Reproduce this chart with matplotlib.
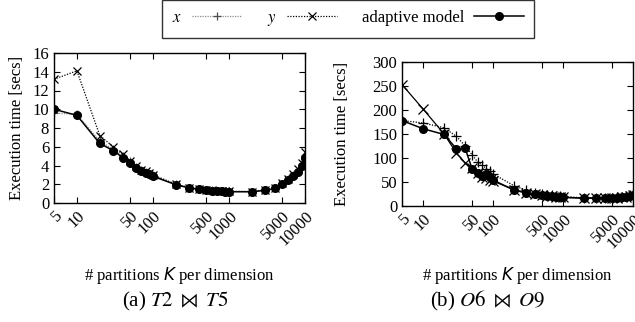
import matplotlib
matplotlib.use("Agg")
import matplotlib.pyplot as plt
from matplotlib.ticker import FixedLocator, FixedFormatter, NullLocator
from matplotlib.transforms import blended_transform_factory

plt.rcParams['font.family'] = ['Liberation Serif', 'DejaVu Serif']
plt.rcParams['mathtext.fontset'] = 'stix'

ks = [5, 10, 20, 30, 40, 50, 60, 70, 80, 90, 100, 200, 300, 400, 500, 600, 700, 800, 900,
      1000, 2000, 3000, 4000, 5000, 6000, 7000, 8000, 9000, 10000]

left_adaptive = [10.0, 9.35, 6.35, 5.6, 4.85, 4.3, 3.7, 3.4, 3.25, 3.05, 2.85, 1.95, 1.6, 1.45,
                 1.38, 1.32, 1.28, 1.25, 1.22, 1.2, 1.2, 1.35, 1.55, 2.0, 2.45, 2.9, 3.35, 4.0, 4.75]
left_x = [9.6, 9.45, 6.6, 5.75, 5.0, 4.45, 3.85, 3.5, 3.35, 3.15, 2.95, 2.0, 1.65, 1.5,
          1.42, 1.36, 1.32, 1.28, 1.25, 1.24, 1.22, 1.38, 1.6, 2.05, 2.55, 3.0, 3.5, 4.15, 5.0]
left_y = [13.2, 14.1, 7.2, 6.0, 5.2, 4.5, 3.9, 3.55, 3.4, 3.2, 3.0, 2.0, 1.65, 1.5,
          1.42, 1.36, 1.32, 1.28, 1.26, 1.24, 1.22, 1.4, 1.65, 2.1, 2.6, 3.1, 3.6, 4.3, 5.4]

right_adaptive = [178, 161, 149, 119, 120, 78, 68, 63, 66, 60, 54, 33, 27, 24, 22, 21, 20, 19,
                  18.5, 18, 16.5, 16.5, 16.5, 17, 17.5, 18, 19, 20, 22]
right_x = [178, 173, 163, 145, 125, 107, 92, 85, 78, 72, 67, 42, 33, 28, 25, 23, 22, 21, 20,
           19.5, 17, 17, 17, 17.5, 18.5, 19.5, 20.5, 22, 24]
right_y = [253, 202, 150, 110, 90, 80, 68, 61, 58, 55, 52, 34, 28, 24, 22, 21, 20, 19, 18.5,
           18, 16.5, 16.5, 16.5, 17, 17.5, 18.5, 19.5, 21, 23]

xticks = [5, 10, 50, 100, 500, 1000, 5000, 10000]
xticklabels = ['5', '10', '50', '100', '500', '1000', '5000', '10000']
left_yticks = [0, 2, 4, 6, 8, 10, 12, 14, 16]
right_yticks = [0, 50, 100, 150, 200, 250, 300]

fig = plt.figure(figsize=(6.35, 3.22), dpi=100)
axL = fig.add_axes([54/635, 1 - 203/322, 251/635, 150/322])
axR = fig.add_axes([402/635, 1 - 206/322, 231/635, 144/322])

def style(ax, yticks, ymax, ylabelpad):
    ax.set_xscale('log')
    ax.set_xlim(5, 10000)
    ax.set_ylim(0, ymax)
    ax.xaxis.set_major_locator(FixedLocator(xticks))
    ax.xaxis.set_major_formatter(FixedFormatter(xticklabels))
    ax.xaxis.set_minor_locator(NullLocator())
    ax.set_yticks(yticks)
    ax.tick_params(direction='in', top=True, right=True, length=4, width=0.8,
                   labelsize=12)
    for lab in ax.get_xticklabels():
        lab.set_rotation(45)
        lab.set_ha('right')
        lab.set_va('top')
        lab.set_rotation_mode('anchor')
    for s in ax.spines.values():
        s.set_linewidth(1.0)
    ax.set_ylabel('Execution time [secs]', fontsize=12, labelpad=ylabelpad)
    ax.set_xlabel(r'# partitions $K$ per dimension', fontsize=12,
                  math_fontfamily='dejavusans')
    ax.xaxis.set_label_coords(0.5, 1 - 276/322,
                              transform=blended_transform_factory(ax.transAxes, fig.transFigure))
    ax.xaxis.label.set_va('center')

# left
hx, = axL.plot(ks, left_x, color='0.55', ls=(0, (1, 1)), lw=0.9, marker='+', ms=6,
               mew=0.9, mec='0.3', label='$x$')
hy, = axL.plot(ks, left_y, color='black', ls=(0, (1, 1.2)), lw=0.9, marker='x', ms=6,
               mew=0.9, label='$y$')
ha, = axL.plot(ks, left_adaptive, color='black', ls='-', lw=1.1, marker='o', ms=5.5,
               label='adaptive model')
style(axL, left_yticks, 16, 5)

# right
axR.plot(ks, right_x, color='black', ls=(0, (1, 1.2)), lw=0.9, marker='+', ms=7, mew=0.9)
axR.plot(ks, right_y, color='black', ls='-', lw=0.9, marker='x', ms=7, mew=0.9)
axR.plot(ks, right_adaptive, color='black', ls='-', lw=1.1, marker='o', ms=5.5)
style(axR, right_yticks, 300, 16)

fig.text(175/635, 1 - 301/322, r'(a) $T2\ \bowtie\ T5$', ha='center', va='center', fontsize=15)
fig.text(487/635, 1 - 301/322, r'(b) $O6\ \bowtie\ O9$', ha='center', va='center', fontsize=15)

leg = fig.legend(handles=[hx, hy, ha], loc='center', bbox_to_anchor=(348/635, 1 - 19/322),
                 ncol=3, markerfirst=False, frameon=True, fancybox=False, edgecolor='black',
                 fontsize=12, handlelength=3.0, columnspacing=1.5, handletextpad=0.6,
                 borderpad=0.6)
leg.get_frame().set_linewidth(1.0)

fig.savefig('out.png', dpi=100)
